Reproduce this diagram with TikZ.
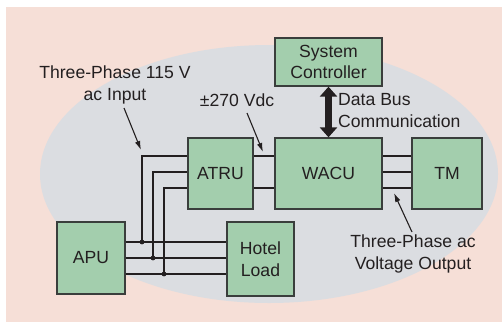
\documentclass[tikz,border=0pt]{standalone}
\usepackage{fontspec}
\setmainfont{Liberation Sans}
\usetikzlibrary{arrows.meta}
\definecolor{bgpink}{RGB}{246,223,215}
\definecolor{ellgray}{RGB}{219,221,225}
\definecolor{boxgreen}{RGB}{163,206,173}
\definecolor{boxline}{RGB}{58,62,60}
\definecolor{txt}{RGB}{35,31,32}
\begin{document}
\begin{tikzpicture}[x=1pt,y=-1pt,
  font=\fontsize{17.6}{21.5}\selectfont, text=txt,
  box/.style={draw=boxline, fill=boxgreen, line width=1.3pt, inner sep=0pt, align=center},
  wire/.style={line width=1.7pt, draw=txt},
  callout/.style={line width=1.1pt, draw=txt, -{Latex[length=9pt 0 0,width=5.5pt 0 0]}},
  lbl/.style={align=center, inner sep=0pt}]
\useasboundingbox (0,0) rectangle (502,322);
\fill[white] (0,0) rectangle (502,322);
\fill[bgpink] (6,7) rectangle (502,322);
\fill[ellgray] (269,174) ellipse [x radius=229pt, y radius=129pt];

% boxes
\node[box, minimum width=107pt, minimum height=48pt] (SC) at (328.5,62) {System\\Controller};
\node[box, minimum width=107pt, minimum height=71pt] (WACU) at (328.5,173.5) {WACU};
\node[box, minimum width=70pt, minimum height=71pt] (TM) at (447,173.5) {TM};
\node[box, minimum width=65pt, minimum height=71pt] (ATRU) at (220.5,173.5) {ATRU};
\node[box, minimum width=68pt, minimum height=72pt] (APU) at (91,258) {APU};
\node[box, minimum width=67pt, minimum height=74pt] (Hotel) at (260.5,259) {Hotel\\Load};

% junction coordinates
\coordinate (j1) at (142,242);
\coordinate (j2) at (153,258);
\coordinate (j3) at (164,274);
\coordinate (a1) at (142,156);
\coordinate (a2) at (153,172);
\coordinate (a3) at (164,188);

% wires
\foreach \j in {j1,j2,j3}
  \draw[wire] (APU.east |- \j) -- (Hotel.west |- \j);
\draw[wire] (j1) |- (ATRU.west |- a1);
\draw[wire] (j2) |- (ATRU.west |- a2);
\draw[wire] (j3) |- (ATRU.west |- a3);
\foreach \a in {a1,a3}
  \draw[wire] (ATRU.east |- \a) -- (WACU.west |- \a);
\foreach \a in {a1,a2,a3}
  \draw[wire] (WACU.east |- \a) -- (TM.west |- \a);
\foreach \j in {j1,j2,j3}
  \fill[txt] (\j) circle (2.4pt);

% data bus double arrow
\draw[line width=7pt, draw=txt,
  {Triangle[length=10pt 0 0, width=17pt 0 0]}-{Triangle[length=10pt 0 0, width=17pt 0 0]}]
  (SC.south) -- (WACU.north);

% labels
\node[lbl] (L1) at (115,85) {Three-Phase 115 V\\ac Input};
\node[lbl] (L2) at (237,100) {\char"00B1 270 Vdc};
\node[lbl, align=left, anchor=west] (L3) at (338,110.5) {Data Bus\\Communication};
\node[lbl] (L4) at (413,254) {Three-Phase ac\\Voltage Output};

% callout arrows
\coordinate (c1s) at (124,108);
\coordinate (c1e) at (141,150);
\coordinate (c2s) at (247,113);
\coordinate (c2e) at (263,152);
\coordinate (c3s) at (412,232);
\coordinate (c3e) at (394,193);
\draw[callout] (c1s) -- (c1e);
\draw[callout] (c2s) -- (c2e);
\draw[callout] (c3s) -- (c3e);
\end{tikzpicture}
\end{document}
